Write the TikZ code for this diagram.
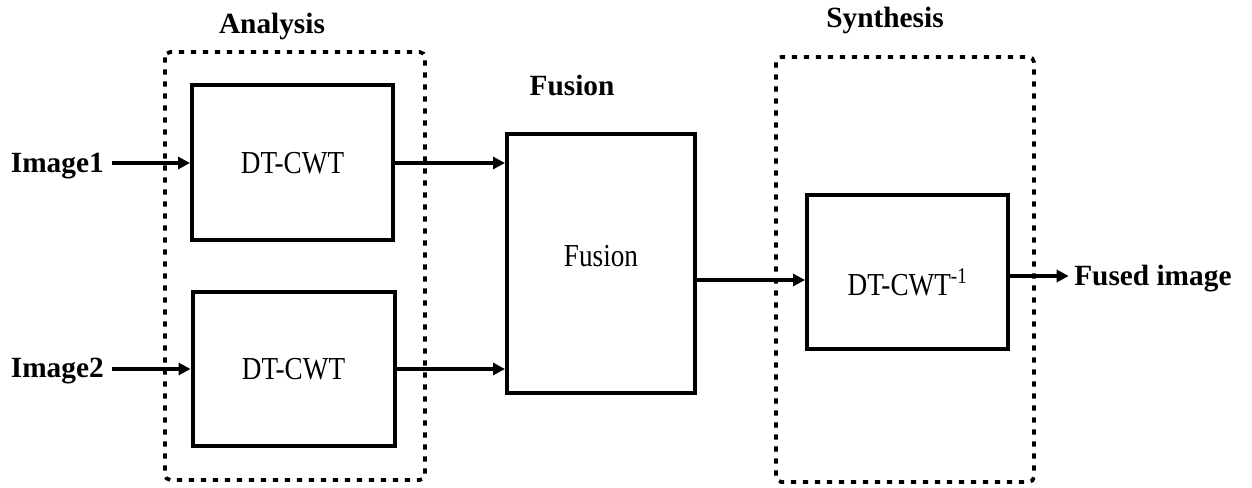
\documentclass[tikz,border=0pt]{standalone}
\usepackage{fontspec}
\setmainfont{Liberation Serif}
\usetikzlibrary{arrows.meta}
\newcommand{\narrow}[1]{\scalebox{0.85}[1]{#1}}
\tikzset{
  blk/.style={draw, line width=3pt, inner sep=0pt, font=\fontsize{24}{28}\selectfont,
    text height=15.9pt, text depth=0pt},
  lbl/.style={inner sep=0pt, font=\fontsize{22}{26}\selectfont\bfseries,
    text height=14.6pt, text depth=0pt},
  grp/.style={line width=2.8pt, dash pattern=on 4pt off 5pt, rounded corners=4pt},
  arr/.style={line width=3pt, -{Triangle[length=9pt,width=9pt]}}
}
\begin{document}
\begin{tikzpicture}[x=0.75pt,y=-0.75pt]
\useasboundingbox (0,0) rectangle (1252,488);
% groups
\draw[grp] (165,52) rectangle (425,480);
\draw[grp] (776,57) rectangle (1034,482);
% blocks
\node[blk, minimum width=150.75pt, minimum height=116.25pt] (b1) at (292.5,163) {\narrow{DT-CWT}};
\node[blk, minimum width=151.5pt, minimum height=115.5pt] (b2) at (293.5,369) {\narrow{DT-CWT}};
\node[blk, minimum width=141pt, minimum height=194.25pt, text depth=11.2pt] (fus) at (601,263.5) {\narrow{Fusion}};
\node[blk, minimum width=150.75pt, minimum height=115.5pt, text height=34.7pt] (inv) at (907.5,272) {\narrow{DT-CWT\textsuperscript{-1}}};
% labels
\node[lbl] (lan) at (272,24) {Analysis};
\node[lbl] (lfu) at (572,86) {Fusion};
\node[lbl] (lsy) at (885,17.5) {Synthesis};
\node[lbl, anchor=east] (img1) at (104,163) {Image1};
\node[lbl, anchor=east] (img2) at (104,368) {Image2};
\node[lbl, anchor=west] (out) at (1074,276) {Fused image};
% connectors
\draw[arr] ([xshift=6pt]img1.east |- b1.west) -- (b1.west);
\draw[arr] ([xshift=6pt]img2.east |- b2.west) -- (b2.west);
\draw[arr] (b1.east) -- (b1.east -| fus.west);
\draw[arr] (b2.east) -- (b2.east -| fus.west);
\draw[arr] ([yshift=-6pt]inv.west -| fus.east) -- ([yshift=-6pt]inv.west);
\draw[arr] ([yshift=-3pt]inv.east) -- ([xshift=-4pt]out.west);
\end{tikzpicture}
\end{document}
